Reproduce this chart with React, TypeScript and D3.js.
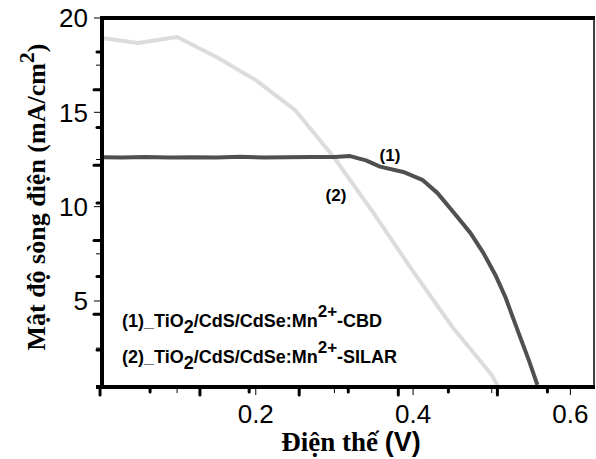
import React from "react";
import * as d3 from "d3";

// Series (1): TiO2/CdS/CdSe:Mn2+ - CBD (dark)
const voltage1 = [0.005, 0.03, 0.06, 0.09, 0.12, 0.15, 0.18, 0.21, 0.24, 0.27, 0.30, 0.32, 0.34, 0.358, 0.3875, 0.4117, 0.4308, 0.4511, 0.4728, 0.4893, 0.5046, 0.5173, 0.536, 0.547, 0.558];
const current1 = [12.62, 12.6, 12.63, 12.6, 12.62, 12.61, 12.64, 12.6, 12.62, 12.63, 12.63, 12.68, 12.45, 12.12, 11.84, 11.42, 10.73, 9.72, 8.61, 7.55, 6.38, 5.21, 3.1, 1.88, 0.55];

// Series (2): TiO2/CdS/CdSe:Mn2+ - SILAR (light)
const voltage2 = [0.005, 0.05, 0.1, 0.15, 0.2, 0.25, 0.3, 0.35, 0.4, 0.45, 0.5, 0.51];
const current2 = [18.94, 18.68, 18.99, 17.93, 16.71, 15.12, 12.58, 9.64, 6.57, 3.62, 1.08, 0.3];

const xTickLabels = [0.2, 0.4, 0.6];
const xMinorTicks = [0.1, 0.3, 0.5];
const yTickLabels = [5, 10, 15, 20];
const yMinorTicks = [2.5, 7.5, 12.5, 17.5];
// bold tick marks from the underlying (superimposed) frame
const xOverlayTicks = [0.002, 0.0656, 0.129, 0.1916, 0.2552, 0.3176, 0.3812, 0.4449, 0.5072, 0.5708];
const yOverlayTicks = [18.2, 16.2, 14.2, 12.2, 10.2, 8.2, 6.3, 4.3, 2.4];
const yOverlayLong = [16.2, 12.2, 8.2, 4.3];

const W = 596, H = 459;
const L = 102, R = 594, T = 18, B = 387;

export default function App() {
  const x = d3.scaleLinear().domain([0.0045, 0.63]).range([L, R]);
  const y = d3.scaleLinear().domain([0.44, 20]).range([B, T]);
  const line = d3.line<[number, number]>().x(d => x(d[0])).y(d => y(d[1]));
  const s1 = voltage1.map((v, i) => [v, current1[i]] as [number, number]);
  const s2 = voltage2.map((v, i) => [v, current2[i]] as [number, number]);
  const sans = "'Liberation Sans', Arial, sans-serif";
  const serif = "'Liberation Serif', 'Times New Roman', serif";

  return (
    <svg width={W} height={H} style={{ position: "absolute", left: 0, top: 0, background: "#fff" }}>
      <defs>
        <clipPath id="plot">
          <rect x={L} y={T} width={R - L} height={B - T} />
        </clipPath>
      </defs>
      <rect x={0} y={0} width={W} height={H} fill="#fff" />
      <g clipPath="url(#plot)">
        <path d={line(s2) || ""} fill="none" stroke="#dcdcdc" strokeWidth={4} strokeLinejoin="round" />
        <path d={line(s1) || ""} fill="none" stroke="#505050" strokeWidth={4} strokeLinejoin="round" />
      </g>

      {/* frame */}
      <line x1={L} x2={R + 1} y1={T} y2={T} stroke="#000" strokeWidth={4} />
      <line x1={R} x2={R} y1={T} y2={B} stroke="#000" strokeWidth={1.5} />
      <line x1={L} x2={L} y1={T - 2} y2={B + 2} stroke="#000" strokeWidth={4} />
      <line x1={L - 6} x2={R + 1} y1={B} y2={B} stroke="#000" strokeWidth={4} />

      {/* thin ticks */}
      {xTickLabels.map(t => (
        <line key={"xt" + t} x1={x(t)} x2={x(t)} y1={B} y2={B + 8} stroke="#000" strokeWidth={1} />
      ))}
      {xMinorTicks.map(t => (
        <line key={"xm" + t} x1={x(t)} x2={x(t)} y1={B} y2={B + 6} stroke="#000" strokeWidth={1} />
      ))}
      {yTickLabels.map(t => (
        <line key={"yt" + t} x1={L - 8} x2={L} y1={y(t)} y2={y(t)} stroke="#000" strokeWidth={1} />
      ))}
      {yMinorTicks.map(t => (
        <line key={"ym" + t} x1={L - 6} x2={L} y1={y(t)} y2={y(t)} stroke="#000" strokeWidth={1} />
      ))}
      {/* bold overlay ticks */}
      {xOverlayTicks.map((t, i) => (
        <line key={"xo" + i} x1={x(t)} x2={x(t)} y1={B} y2={B + (i % 2 === 0 ? 8 : 5)} stroke="#000" strokeWidth={3} strokeLinecap="round" />
      ))}
      {yOverlayTicks.map((t, i) => (
        <line key={"yo" + i} x1={L - (yOverlayLong.includes(t) ? 8 : 5)} x2={L} y1={y(t)} y2={y(t)} stroke="#000" strokeWidth={3} strokeLinecap="round" />
      ))}

      {/* tick labels */}
      {xTickLabels.map(t => (
        <text key={"xl" + t} x={x(t)} y={423} textAnchor="middle" fontFamily={sans} fontSize={26} fill="#000">
          {t.toFixed(1)}
        </text>
      ))}
      {yTickLabels.map(t => (
        <text key={"yl" + t} x={88} y={y(t)} dy="0.36em" textAnchor="end" fontFamily={sans} fontSize={26} fill="#000">
          {t}
        </text>
      ))}

      {/* axis titles */}
      <text x={351} y={451} textAnchor="middle" fontSize={27} fontWeight="bold" fill="#000">
        <tspan fontFamily={serif}>Điện thế </tspan>
        <tspan fontFamily={sans}>(V)</tspan>
      </text>
      <text transform={`translate(45,197) rotate(-90)`} textAnchor="middle" fontFamily={serif} fontSize={26} fontWeight="bold" fill="#000">
        Mật độ sòng điện (mA/cm<tspan dy={-11} fontSize={22}>2</tspan><tspan dy={11}>)</tspan>
      </text>

      {/* legend text */}
      <text x={122} y={327} fontFamily={sans} fontSize={18} fontWeight="bold" fill="#000">
        (1)_TiO<tspan dy={6}>2</tspan><tspan dy={-6}>/CdS/CdSe:Mn</tspan><tspan dy={-10} fontSize={17}>2+</tspan><tspan dy={10}>-CBD</tspan>
      </text>
      <text x={122} y={363} fontFamily={sans} fontSize={18} fontWeight="bold" fill="#000">
        (2)_TiO<tspan dy={6}>2</tspan><tspan dy={-6}>/CdS/CdSe:Mn</tspan><tspan dy={-10} fontSize={17}>2+</tspan><tspan dy={10}>-SILAR</tspan>
      </text>

      {/* curve annotations */}
      <text x={390} y={161} textAnchor="middle" fontFamily={sans} fontSize={17} fontWeight="bold" fill="#000">(1)</text>
      <text x={336} y={201} textAnchor="middle" fontFamily={sans} fontSize={17} fontWeight="bold" fill="#000">(2)</text>
    </svg>
  );
}
